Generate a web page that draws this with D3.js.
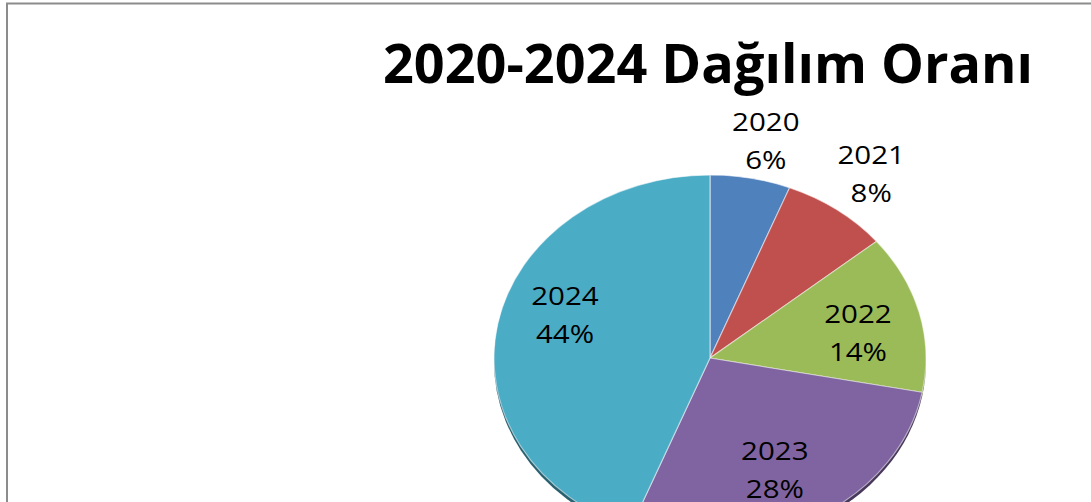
<!DOCTYPE html>
<html><head><meta charset="utf-8">
<script src="https://cdn.jsdelivr.net/npm/d3@7"></script>
<style>body{margin:0;background:#fff;}svg{display:block;}</style>
</head><body>
<svg id="chart" width="1091" height="502"></svg>
<script>
const categories = ["2020", "2021", "2022", "2023", "2024"];
const values = [6, 8, 14, 28, 44];
const colors = ["#4F81BD", "#C0504D", "#9BBB59", "#8064A2", "#4BACC6"];
const title = "2020-2024 Dağılım Oranı";
// small manual label nudges (screen px), like Excel's best-fit placement
const labelNudgeX = [6, 5, 1.5, -8, 3.5];
const labelNudgeY = [4, -2, 7, 0, -19];

const W = 1091, H = 502;
const svg = d3.select("#chart");

// frame
svg.append("rect").attr("x", 7).attr("y", 3.5).attr("width", W + 20).attr("height", H + 20)
  .attr("fill", "#fff").attr("stroke", "#8c8c8c").attr("stroke-width", 2);

// title
svg.append("text").attr("x", 708).attr("y", 83).attr("text-anchor", "middle")
  .attr("font-family", "'Open Sans', sans-serif").attr("font-weight", 700)
  .attr("font-size", 54).attr("fill", "#000").text(title);

const R = 183, sx = 216 / 183, cx = 710, cy = 358;
const data = categories.map((c, i) => ({ cat: c, value: values[i], color: colors[i], i }));
const total = d3.sum(values);
const pie = d3.pie().value(d => d.value).sort(null);
const arcs = pie(data);
const arc = d3.arc().innerRadius(0).outerRadius(R);

const g = svg.append("g").attr("transform", `translate(${cx},${cy}) scale(${sx},1)`);

// 3D depth edge
g.append("g").attr("transform", "translate(0,4)").selectAll("path").data(arcs).join("path")
  .attr("d", arc).attr("fill", d => d3.color(d.data.color).darker(1.6));

g.append("g").selectAll("path").data(arcs).join("path")
  .attr("d", arc).attr("fill", d => d.data.color)
  .attr("stroke", "rgba(255,255,255,0.55)").attr("stroke-width", 1);

// labels
const labels = svg.append("g").selectAll("text").data(arcs).join("text")
  .attr("text-anchor", "middle")
  .attr("font-family", "'Open Sans', sans-serif")
  .attr("font-size", 25).attr("fill", "#000")
  .attr("transform", d => {
    const pct = d.data.value / total;
    const rr = pct < 0.1 ? R * 1.23 : R * 0.7;
    const a = (d.startAngle + d.endAngle) / 2;
    const x = cx + sx * rr * Math.sin(a) + labelNudgeX[d.data.i];
    const y = cy - rr * Math.cos(a) + labelNudgeY[d.data.i];
    return `translate(${x},${y}) scale(${sx},1)`;
  });
labels.append("tspan").attr("x", 0).attr("y", -10).text(d => d.data.cat);
labels.append("tspan").attr("x", 0).attr("y", 28).text(d => Math.round(d.data.value / total * 100) + "%");
</script>
</body></html>
